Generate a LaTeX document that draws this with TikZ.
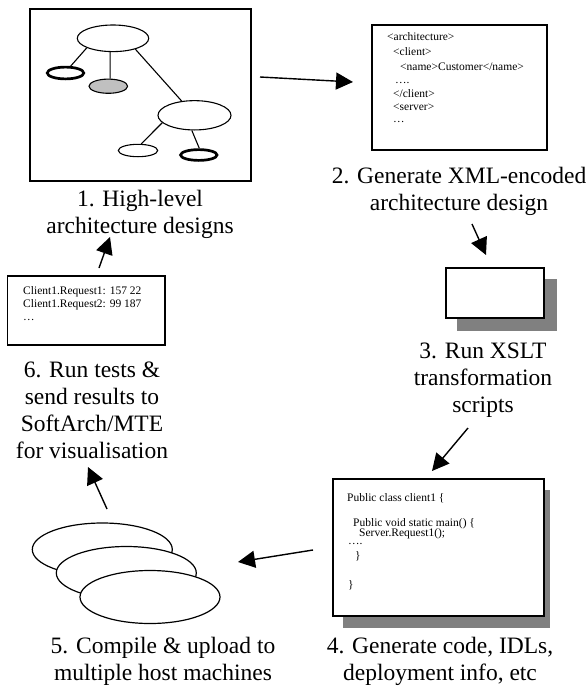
\documentclass[tikz,border=0pt]{standalone}
\usepackage{fontspec}
\setmainfont{Liberation Serif}
\usetikzlibrary{arrows.meta,shapes.geometric}
\definecolor{shadowgray}{RGB}{128,128,128}
\definecolor{elgray}{RGB}{192,192,192}
\begin{document}
\begin{tikzpicture}[x=1pt,y=-1pt,
  panel/.style={draw,line width=1.2pt,inner sep=0pt,fill=white},
  shadowbox/.style={fill=shadowgray,draw=none,inner sep=0pt},
  el/.style={draw,ellipse,inner sep=0pt,line width=1.1pt},
  thickel/.style={el,line width=2.7pt},
  lbl/.style={align=center,font=\fontsize{23.5}{27}\selectfont,inner sep=0pt},
  codetxt/.style={anchor=base west,font=\fontsize{11.5}{13}\selectfont,inner sep=0pt},
  arr/.style={line width=1.4pt,-{Triangle[length=17pt,width=17pt]}},
  link/.style={line width=1.1pt}]
\fill[white] (0,0) rectangle (587,688);
\useasboundingbox (0,0) rectangle (587,688);

% ---- Box 1: high-level design
\node[panel,minimum width=221pt,minimum height=172pt] (b1) at (140.5,95) {};
\node[el,minimum width=71.4pt,minimum height=26.6pt] (e1) at (113,38.3) {};
\node[thickel,minimum width=36.5pt,minimum height=11.8pt] (e2) at (65.5,73) {};
\node[el,fill=elgray,minimum width=38.6pt,minimum height=14.2pt] (e3) at (108.3,86.2) {};
\node[el,minimum width=73pt,minimum height=29.3pt] (e4) at (194.5,115.3) {};
\node[el,minimum width=39.4pt,minimum height=12.4pt] (e5) at (138,150.5) {};
\node[thickel,minimum width=36.4pt,minimum height=10.8pt] (e6) at (198.8,155) {};
\draw[link] (e1.200) -- (e2.53);
\draw[link] (e1.258) -- (e3.77);
\draw[link] (e1.334) -- (e4.132);
\draw[link] (e4.193) -- (e5.64);
\draw[link] (e4.260) -- (e6.86);
\node[lbl,anchor=base] (l1) at (140,233) {1. High-level\\architecture designs};

% ---- Box 2: XML
\node[panel,minimum width=175pt,minimum height=125pt] (b2) at (459.5,87.5) {};
\node[codetxt] (x1) at (387,40.5) {<architecture>};
\node[codetxt] (x2) at (393,55.5) {<client>};
\node[codetxt] (x3) at (400,70) {<name>Customer</name>};
\node[codetxt] (x4) at (395,83) {….};
\node[codetxt] (x5) at (393,97.5) {</client>};
\node[codetxt] (x6) at (393,110.5) {<server>};
\node[codetxt] (x7) at (393,122) {…};
\node[lbl,anchor=base] (l2) at (459,210) {2. Generate XML-encoded\\architecture design};

% ---- Box 3: XSLT
\node[shadowbox,minimum width=100pt,minimum height=52pt] (s3) at (507,305) {};
\node[panel,minimum width=98pt,minimum height=50pt] (b3) at (495,293) {};
\node[lbl,anchor=base] (l3) at (483,412) {3. Run XSLT\\transformation\\scripts};

% ---- Box 4: code
\node[shadowbox,minimum width=207pt,minimum height=138pt] (s4) at (446.5,559) {};
\node[panel,minimum width=211pt,minimum height=137pt] (b4) at (438.5,547.5) {};
\node[codetxt] (c1) at (347,501) {Public class client1 \{};
\node[codetxt] (c2) at (353,526) {Public void static main() \{};
\node[codetxt] (c3) at (359,536.5) {Server.Request1();};
\node[codetxt] (c4) at (348,544) {….};
\node[codetxt] (c5) at (355,559) {\}};
\node[codetxt] (c6) at (348,588) {\}};
\node[lbl,anchor=base] (l4) at (440,680) {4. Generate code, IDLs,\\deployment info, etc};

% ---- Step 5: host machines
\node[el,line width=1.2pt,fill=white,minimum width=140pt,minimum height=53pt] (h1) at (102.3,549.5) {};
\node[el,line width=1.2pt,fill=white,minimum width=140pt,minimum height=53pt] (h2) at (126.3,573) {};
\node[el,line width=1.2pt,fill=white,minimum width=140pt,minimum height=53pt] (h3) at (150,597) {};
\node[lbl,anchor=base] (l5) at (163,680) {5. Compile \& upload to\\multiple host machines};

% ---- Box 6: results
\node[panel,minimum width=157.5pt,minimum height=69pt] (b6) at (86.25,310.5) {};
\node[codetxt] (r1) at (23,294) {Client1.Request1: 157 22};
\node[codetxt] (r2) at (23,307) {Client1.Request2: 99 187};
\node[codetxt] (r3) at (23,320) {…};
\node[lbl,anchor=base] (l6) at (92,458) {6. Run tests \&\\send results to\\SoftArch/MTE\\for visualisation};

% ---- Arrows
\coordinate (a1s) at (260,77);  \coordinate (a1e) at (353,82);
\coordinate (a2s) at (472,224); \coordinate (a2e) at (486,255);
\coordinate (a3s) at (468,428); \coordinate (a3e) at (432,471);
\coordinate (a4s) at (313,550); \coordinate (a4e) at (238,562);
\coordinate (a5s) at (107,509); \coordinate (a5e) at (88,467);
\coordinate (a6s) at (99,268);  \coordinate (a6e) at (110,237);
\draw[arr] (a1s) -- (a1e);
\draw[arr] (a2s) -- (a2e);
\draw[arr] (a3s) -- (a3e);
\draw[arr] (a4s) -- (a4e);
\draw[arr] (a5s) -- (a5e);
\draw[arr] (a6s) -- (a6e);
\end{tikzpicture}
\end{document}
